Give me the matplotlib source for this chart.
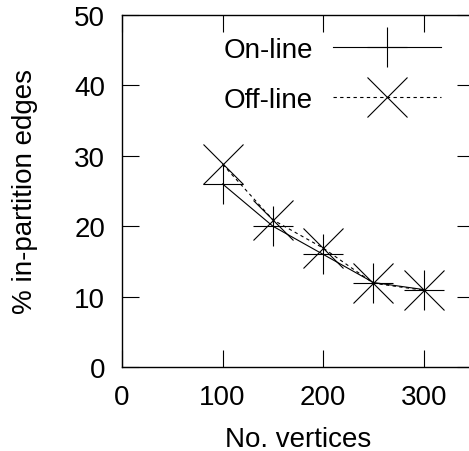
import matplotlib

matplotlib.use("Agg")
import matplotlib.pyplot as plt

plt.rcParams["font.family"] = ["Liberation Sans", "DejaVu Sans"]
plt.rcParams["font.size"] = 20

vertices = [100, 150, 200, 250, 300]
online = [26, 20, 16, 12, 11]
offline = [28.8, 20.9, 16.9, 11.9, 10.9]

W, H = 469, 452
fig = plt.figure(figsize=(W / 100, H / 100), dpi=100)
# axes box in pixels: left 122, right 474 (cropped), top 16, bottom 368
ax = fig.add_axes([122 / W, (H - 368) / H, 352 / W, 352 / H])

ax.plot(vertices, online, color="black", linewidth=0.8, marker="+",
        markersize=29.5, markeredgewidth=0.8, label="On-line")
ax.plot(vertices, offline, color="black", linewidth=0.8, linestyle=(0, (3, 3)),
        marker="x", markersize=29.5, markeredgewidth=0.8, label="Off-line")

ax.set_xlim(0, 350)
ax.set_ylim(0, 50)
ax.set_xticks([0, 100, 200, 300])
ax.set_yticks([0, 10, 20, 30, 40, 50])
ax.tick_params(direction="in", length=12.2, width=0.8, top=True, right=True,
               labelsize=20, pad=12)
for s in ax.spines.values():
    s.set_linewidth(1.0)

ax.set_xlabel("No. vertices")
ax.set_ylabel("% in-partition edges")
ax.xaxis.set_label_coords(0.5, -0.168)
ax.yaxis.set_label_coords(-0.24, 0.5)

ax.legend(loc="upper right", bbox_to_anchor=(441 / W, 1 - 38 / H),
          bbox_transform=fig.transFigure, frameon=False, markerfirst=False,
          numpoints=1, handlelength=3.9, handletextpad=0.72, labelspacing=0.85,
          borderpad=0, borderaxespad=0, fontsize=20)

fig.savefig("out.png", dpi=100)
